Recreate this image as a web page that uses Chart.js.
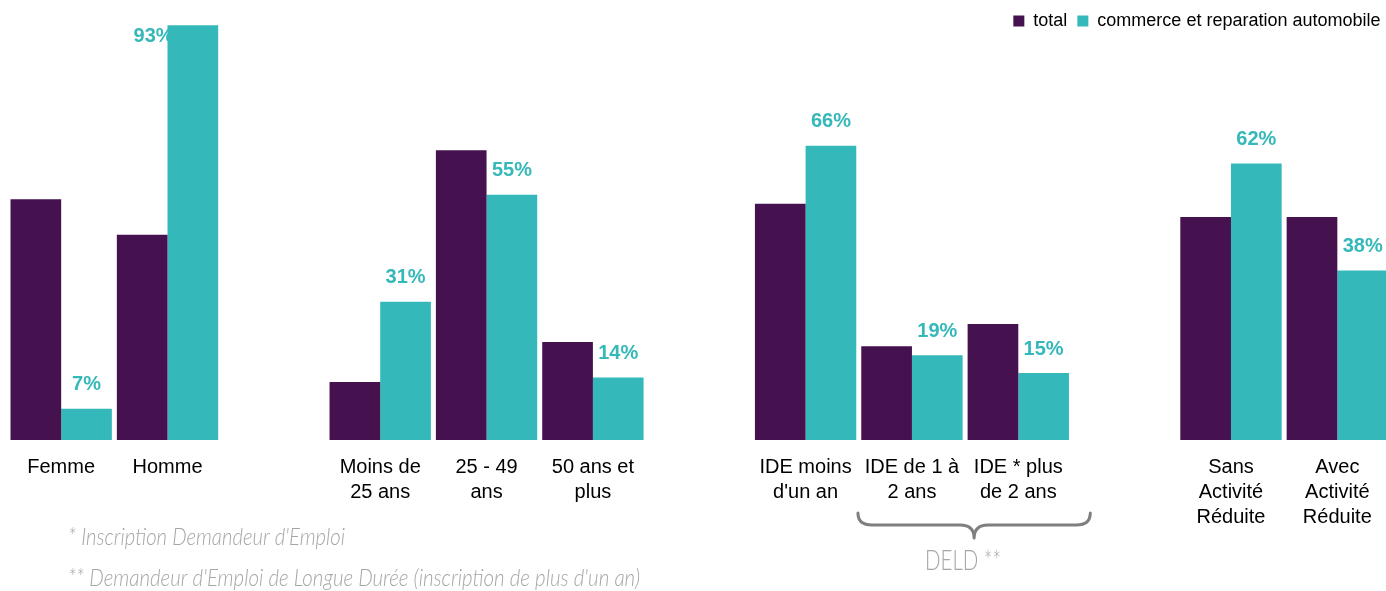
<!DOCTYPE html>
<html>
<head>
<meta charset="utf-8">
<script src="https://cdn.jsdelivr.net/npm/chart.js@4.4.1/dist/chart.umd.min.js"></script>
<style>
html,body{margin:0;padding:0;overflow:hidden;background:#ffffff;}
#wrap{position:absolute;left:0;top:0;width:1392px;height:591px;}
</style>
</head>
<body>
<div id="wrap"><canvas id="c"></canvas></div>
<script>
const categories = [
  ["Femme"], ["Homme"], "",
  ["Moins de", "25 ans"], ["25 - 49", "ans"], ["50 ans et", "plus"], "",
  ["IDE moins", "d'un an"], ["IDE de 1 à", "2 ans"], ["IDE * plus", "de 2 ans"], "",
  ["Sans", "Activité", "Réduite"], ["Avec", "Activité", "Réduite"]
];
const seriesNames = ["total", "commerce et reparation automobile"];
const totalValues = [54, 46, null, 13, 65, 22, null, 53, 21, 26, null, 50, 50];
const autoValues  = [7, 93, null, 31, 55, 14, null, 66, 19, 15, null, 62, 38];
const footnotes = [
  "* Inscription Demandeur d'Emploi",
  "** Demandeur d'Emploi de Longue Durée (inscription de plus d'un an)"
];
const braceLabel = "DELD **";

const PURPLE = "#46114f";
const TEAL = "#35b8b9";

const valueLabels = {
  id: "valueLabels",
  beforeDatasetsDraw(chart) {
    const meta = chart.getDatasetMeta(1);
    const ctx = chart.ctx;
    ctx.save();
    ctx.font = 'bold 20px "Liberation Sans", Arial, sans-serif';
    ctx.fillStyle = TEAL;
    ctx.textBaseline = "middle";
    meta.data.forEach((bar, i) => {
      const v = autoValues[i];
      if (v == null) return;
      const t = v + "%";
      if (bar.y - 24 < 14) {
        ctx.textAlign = "left";
        ctx.fillText(t, bar.x - bar.width / 2 - 34, bar.y + 11);
      } else {
        ctx.textAlign = "center";
        ctx.fillText(t, bar.x, bar.y - 24);
      }
    });
    ctx.restore();
  }
};

const notes = {
  id: "notes",
  afterDraw(chart) {
    const ctx = chart.ctx;
    const xs = chart.scales.x;
    ctx.save();
    // brace
    const x1 = xs.getPixelForValue(8) - 54;
    const x2 = xs.getPixelForValue(9) + 72;
    const tip = (x1 + x2) / 2;
    const yTop = 513, yMid = 525, yTip = 538, r = 14;
    ctx.strokeStyle = "#7f7f7f";
    ctx.lineWidth = 3;
    ctx.lineCap = "round";
    ctx.lineJoin = "round";
    ctx.beginPath();
    ctx.moveTo(x1, yTop);
    ctx.quadraticCurveTo(x1, yMid, x1 + r, yMid);
    ctx.lineTo(tip - r, yMid);
    ctx.quadraticCurveTo(tip, yMid, tip, yTip);
    ctx.quadraticCurveTo(tip, yMid, tip + r, yMid);
    ctx.lineTo(x2 - r, yMid);
    ctx.quadraticCurveTo(x2, yMid, x2, yTop);
    ctx.stroke();
    // DELD label
    ctx.fillStyle = "#a6a6a6";
    ctx.textBaseline = "alphabetic";
    ctx.textAlign = "center";
    ctx.font = '300 27px Lato, "Open Sans", sans-serif';
    ctx.fillText(braceLabel, tip - 11, 570, 76);
    // footnotes
    ctx.textAlign = "left";
    ctx.font = 'italic 300 23px Lato, "Open Sans", sans-serif';
    ctx.fillText(footnotes[0], 68, 545, 277);
    ctx.fillText(footnotes[1], 68, 586, 572);
    ctx.restore();
  }
};

new Chart(document.getElementById("c"), {
  type: "bar",
  data: {
    labels: categories,
    datasets: [
      { label: seriesNames[0], data: totalValues, backgroundColor: PURPLE, clip: false,
        categoryPercentage: 0.953, barPercentage: 1.0 },
      { label: seriesNames[1], data: autoValues, backgroundColor: TEAL, clip: false,
        categoryPercentage: 0.953, barPercentage: 1.0 }
    ]
  },
  options: {
    responsive: true,
    maintainAspectRatio: false,
    animation: false,
    layout: { padding: { left: 8, right: 1.5, top: 2, bottom: 46 } },
    plugins: {
      legend: {
        position: "top",
        align: "end",
        labels: {
          boxWidth: 11, boxHeight: 11, padding: 10, color: "#000000",
          font: { family: '"Liberation Sans", Arial, sans-serif', size: 18 }
        }
      },
      tooltip: { enabled: false }
    },
    scales: {
      x: {
        grid: { display: false, drawTicks: false },
        border: { display: false },
        ticks: {
          autoSkip: false, maxRotation: 0, minRotation: 0, padding: 15,
          color: "#000000",
          font: { family: '"Liberation Sans", Arial, sans-serif', size: 20, lineHeight: 1.25 }
        }
      },
      y: {
        display: false,
        min: 0,
        max: 89.7
      }
    }
  },
  plugins: [valueLabels, notes]
});
</script>
</body>
</html>
